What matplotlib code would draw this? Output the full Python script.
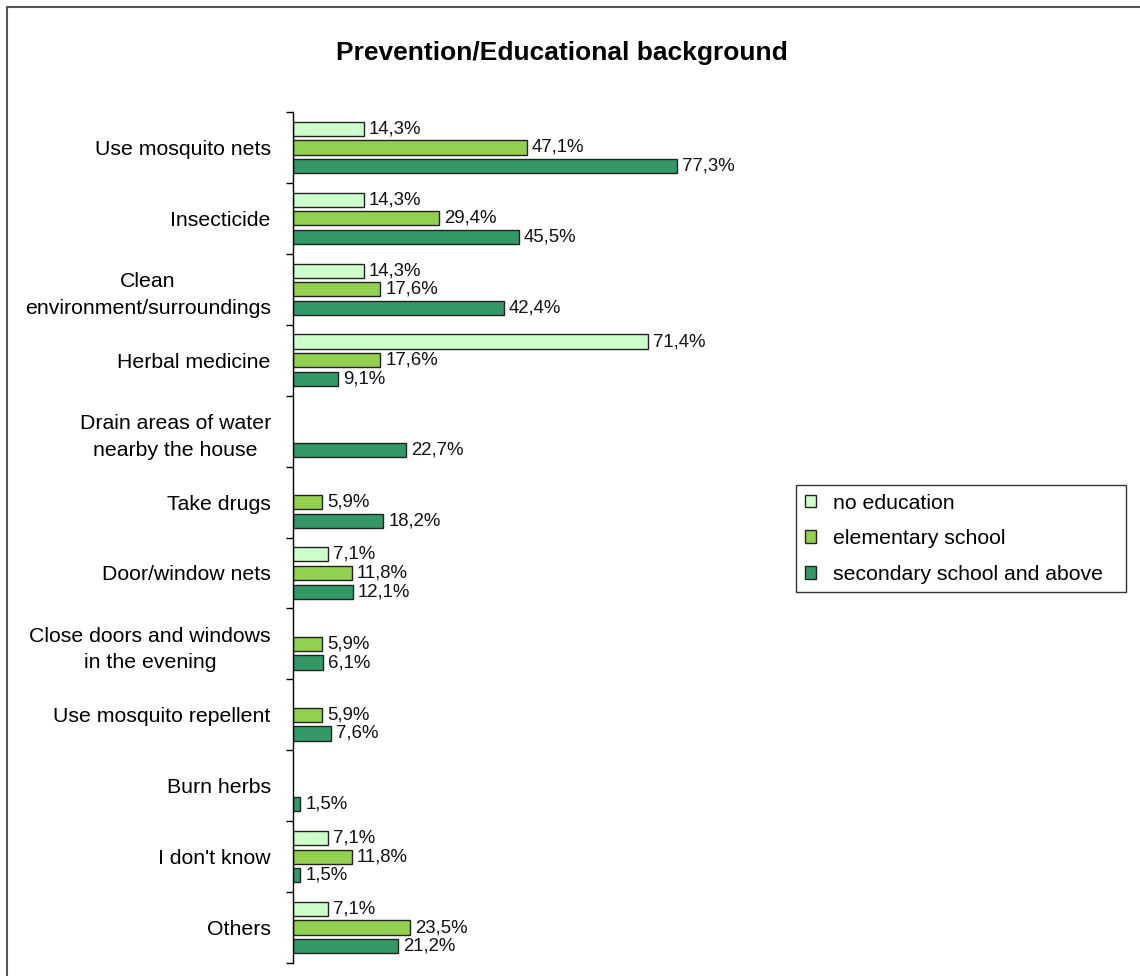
import matplotlib
matplotlib.use("Agg")
import matplotlib.pyplot as plt
import numpy as np
from matplotlib.patches import Rectangle, Patch

plt.rcParams['font.family'] = ['Liberation Sans', 'DejaVu Sans']

categories = [
    "Use mosquito nets",
    "Insecticide",
    "Clean\nenvironment/surroundings",
    "Herbal medicine",
    "Drain areas of water\nnearby the house",
    "Take drugs",
    "Door/window nets",
    "Close doors and windows\nin the evening",
    "Use mosquito repellent",
    "Burn herbs",
    "I don't know",
    "Others",
]
# None = no answer in that group
no_education = [14.3, 14.3, 14.3, 71.4, None, None, 7.1, None, None, None, 7.1, 7.1]
elementary = [47.1, 29.4, 17.6, 17.6, None, 5.9, 11.8, 5.9, 5.9, None, 11.8, 23.5]
secondary = [77.3, 45.5, 42.4, 9.1, 22.7, 18.2, 12.1, 6.1, 7.6, 1.5, 1.5, 21.2]

series = [
    ("no education", no_education, "#CCFFCC"),
    ("elementary school", elementary, "#92D050"),
    ("secondary school and above", secondary, "#339966"),
]

fig = plt.figure(figsize=(11.4, 9.76), dpi=100)
ax = fig.add_axes([293 / 1140, 1 - 963 / 976, (790 - 293) / 1140, (963 - 112) / 976])

# frame around the chart area
fig.patches.append(Rectangle((7 / 1140, -0.1), 1.2, 1 - 7 / 976 + 0.1,
                             transform=fig.transFigure, fill=False,
                             edgecolor="#555555", linewidth=1.5))

y = np.arange(len(categories))
offsets = [-0.263, 0.0, 0.263]
for (name, vals, color), off in zip(series, offsets):
    for i, v in enumerate(vals):
        if v is None:
            continue
        ax.barh(y[i] + off, v, height=0.2, color=color, edgecolor="#222222", linewidth=1)
        ax.text(v + 1.0, y[i] + off, ("%.1f%%" % v).replace(".", ","),
                va="center", ha="left", fontsize=13.4, color="#111111")

ax.set_xlim(0, 100)
ax.set_ylim(len(categories) - 0.5, -0.5)
ax.set_yticks(y)
ax.set_yticklabels(categories, fontsize=15.3, ha="right", multialignment="center",
                   linespacing=1.5)
ax.tick_params(axis="y", length=0, pad=16)
ax.set_yticks(np.arange(-0.5, len(categories), 1.0), minor=True)
ax.tick_params(axis="y", which="minor", length=5, width=1, direction="out")
ax.set_xticks([])
for s in ["top", "right", "bottom"]:
    ax.spines[s].set_visible(False)
ax.spines["left"].set_linewidth(1)

fig.text(562 / 1140, 1 - 53 / 976, "Prevention/Educational background",
         ha="center", va="center", fontsize=19, fontweight="bold")

handles = [Patch(facecolor=c, edgecolor="#222222", label=n) for n, _, c in series]
leg = fig.legend(handles=handles, loc="upper left", mode="expand",
                 bbox_to_anchor=(796 / 1140, 1 - 591 / 976, 330 / 1140, 106 / 976),
                 fontsize=15.3, frameon=True, fancybox=False, edgecolor="#000000",
                 handlelength=0.55, handleheight=0.55, handletextpad=0.8,
                 labelspacing=0.78, borderpad=0.4, borderaxespad=0)
leg.get_frame().set_linewidth(1)

fig.savefig("out.png", dpi=100)
